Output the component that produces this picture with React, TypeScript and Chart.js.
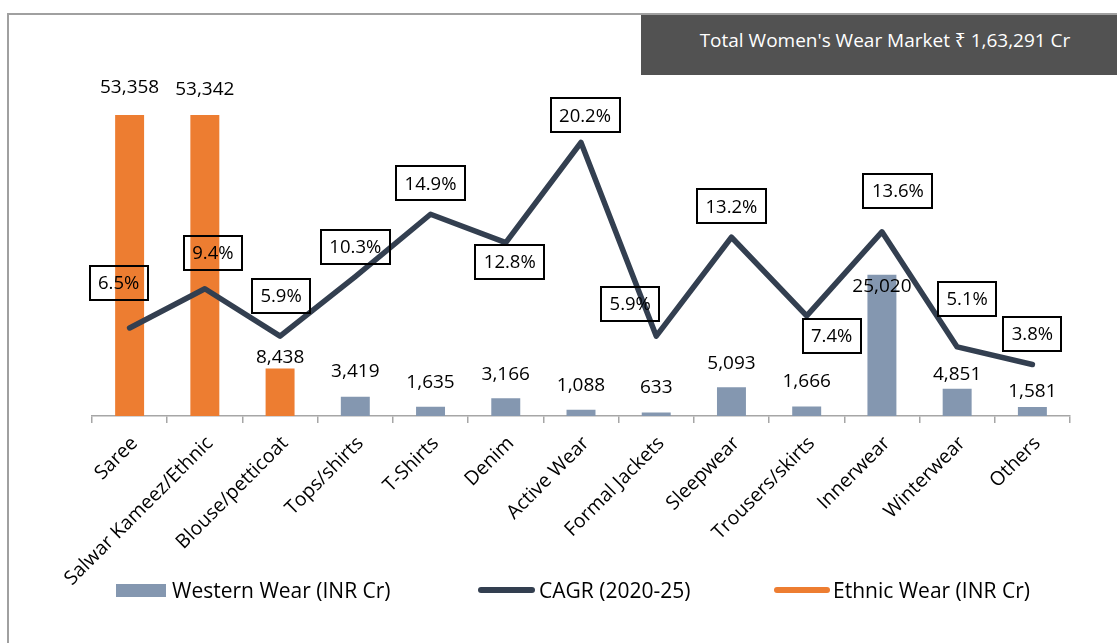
import React, { useEffect, useRef } from "react";
import { Chart, registerables } from "chart.js";

Chart.register(...registerables);

// ---------- data ----------
const categories = [
  "Saree",
  "Salwar Kameez/Ethnic",
  "Blouse/petticoat",
  "Tops/shirts",
  "T-Shirts",
  "Denim",
  "Active Wear",
  "Formal Jackets",
  "Sleepwear",
  "Trousers/skirts",
  "Innerwear",
  "Winterwear",
  "Others",
];
const westernWear = [null, null, null, 3419, 1635, 3166, 1088, 633, 5093, 1666, 25020, 4851, 1581];
const ethnicWear = [53358, 53342, 8438, null, null, null, null, null, null, null, null, null, null];
const cagr = [6.5, 9.4, 5.9, 10.3, 14.9, 12.8, 20.2, 5.9, 13.2, 7.4, 13.6, 5.1, 3.8];
const seriesNames = ["Western Wear (INR Cr)", "CAGR (2020-25)", "Ethnic Wear (INR Cr)"];
const totalMarketText = "Total Women's Wear Market \u20B9 1,63,291 Cr";

// ---------- layout (label placement, not data) ----------
const barLabelGap = [27, 25, 11, 25, 24, 24, 24, 25, 24, 25, -12, 14, 15];
const cagrLabelOffset = [
  [-11, -45],
  [8, -36],
  [1, -40],
  [0, -30],
  [0, -31],
  [4, 19],
  [4, -27],
  [-26, -32],
  [0, -31],
  [25, 20],
  [16, -41],
  [10, -48],
  [0, -31],
];

const FONT = "'Open Sans', 'Noto Sans', 'DejaVu Sans', sans-serif";
const C_WEST = "#8497B0";
const C_ETH = "#ED7D31";
const C_LINE = "#333F50";

export default function App() {
  const ref = useRef<HTMLCanvasElement>(null);

  useEffect(() => {
    if (!ref.current) return;

    const labelPlugin = {
      id: "valueLabels",
      afterDatasetsDraw(chart: any) {
        const ctx = chart.ctx;
        ctx.save();
        [0, 2].forEach((di) => {
          const meta = chart.getDatasetMeta(di);
          const data = chart.data.datasets[di].data;
          meta.data.forEach((el: any, i: number) => {
            const v = data[i];
            if (v == null) return;
            ctx.font = `19px ${FONT}`;
            ctx.fillStyle = "#000";
            ctx.textAlign = "center";
            ctx.textBaseline = "middle";
            ctx.fillText(Number(v).toLocaleString("en-US"), el.x, el.y - barLabelGap[i]);
          });
        });
        const lm = chart.getDatasetMeta(1);
        lm.data.forEach((pt: any, i: number) => {
          const txt = cagr[i].toFixed(1) + "%";
          ctx.font = `18.5px ${FONT}`;
          ctx.textAlign = "center";
          ctx.textBaseline = "middle";
          const w = Math.round(ctx.measureText(txt).width + 17);
          const h = 34;
          const cx = pt.x + cagrLabelOffset[i][0];
          const cy = pt.y + cagrLabelOffset[i][1];
          ctx.lineWidth = 2;
          ctx.strokeStyle = "#000";
          ctx.strokeRect(Math.round(cx - w / 2), Math.round(cy - h / 2), w, h);
          ctx.fillStyle = "#000";
          ctx.fillText(txt, cx, cy + 1);
        });
        ctx.restore();
      },
    };

    const chart = new Chart(ref.current, {
      type: "bar",
      data: {
        labels: categories,
        datasets: [
          {
            type: "bar",
            label: seriesNames[0],
            data: westernWear,
            backgroundColor: C_WEST,
            yAxisID: "y",
            grouped: false,
            barPercentage: 0.385,
            categoryPercentage: 1,
            order: 1,
          } as any,
          {
            type: "line",
            label: seriesNames[1],
            data: cagr,
            borderColor: C_LINE,
            backgroundColor: C_LINE,
            borderWidth: 5.5,
            pointRadius: 0,
            tension: 0,
            borderCapStyle: "round",
            borderJoinStyle: "round",
            yAxisID: "y2",
            order: 0,
          } as any,
          {
            type: "bar",
            label: seriesNames[2],
            data: ethnicWear,
            backgroundColor: C_ETH,
            yAxisID: "y",
            grouped: false,
            barPercentage: 0.385,
            categoryPercentage: 1,
            order: 1,
          } as any,
        ],
      },
      options: {
        responsive: false,
        animation: false,
        events: [],
        layout: { padding: { left: 92, right: 47, top: 77.5, bottom: 37 } },
        plugins: {
          legend: { display: false },
          tooltip: { enabled: false },
        },
        scales: {
          x: {
            offset: true,
            grid: {
              display: true,
              drawOnChartArea: false,
              drawTicks: true,
              tickLength: 7,
              color: "#A6A6A6",
              lineWidth: 1.5,
              offset: true,
            },
            border: { display: true, color: "#A6A6A6", width: 1.5 },
            ticks: {
              color: "#000",
              font: { family: FONT, size: 19.5 },
              minRotation: 45,
              maxRotation: 45,
              autoSkip: false,
              padding: 9,
              labelOffset: 5,
            },
            afterFit: (scale: any) => {
              scale.height = 190;
            },
          },
          y: { display: false, min: 0, max: 60000 },
          y2: { display: false, min: 0, max: 25, position: "right" },
        },
      },
      plugins: [labelPlugin],
    } as any);

    return () => chart.destroy();
  }, []);

  const legendText: React.CSSProperties = {
    position: "fixed",
    top: 576,
    height: 28,
    lineHeight: "28px",
    fontFamily: FONT,
    fontSize: 21,
    color: "#000",
    whiteSpace: "nowrap",
  };

  return (
    <div>
      <div
        style={{
          position: "fixed",
          left: 7,
          top: 13,
          width: 1140,
          height: 660,
          borderLeft: "2px solid #A0A0A0",
          borderTop: "2px solid #A0A0A0",
          boxSizing: "border-box",
        }}
      />
      <div
        style={{
          position: "fixed",
          left: 641,
          top: 15,
          width: 476,
          height: 60,
          background: "#525252",
          color: "#fff",
          fontFamily: FONT,
          fontSize: 19,
          lineHeight: "26px",
          paddingTop: 12,
          paddingLeft: 12,
          boxSizing: "border-box",
          textAlign: "center",
          whiteSpace: "nowrap",
        }}
      >
        {totalMarketText}
      </div>
      <canvas
        ref={ref}
        width={1117}
        height={643}
        style={{ position: "fixed", left: 0, top: 0, width: 1117, height: 643 }}
      />
      <div style={{ position: "fixed", left: 116, top: 584, width: 50, height: 13, background: C_WEST }} />
      <div style={{ ...legendText, left: 172 }}>{seriesNames[0]}</div>
      <div
        style={{ position: "fixed", left: 478, top: 587, width: 57, height: 6, borderRadius: 3, background: C_LINE }}
      />
      <div style={{ ...legendText, left: 539 }}>{seriesNames[1]}</div>
      <div
        style={{ position: "fixed", left: 774, top: 587, width: 56, height: 6, borderRadius: 3, background: C_ETH }}
      />
      <div style={{ ...legendText, left: 833 }}>{seriesNames[2]}</div>
    </div>
  );
}
